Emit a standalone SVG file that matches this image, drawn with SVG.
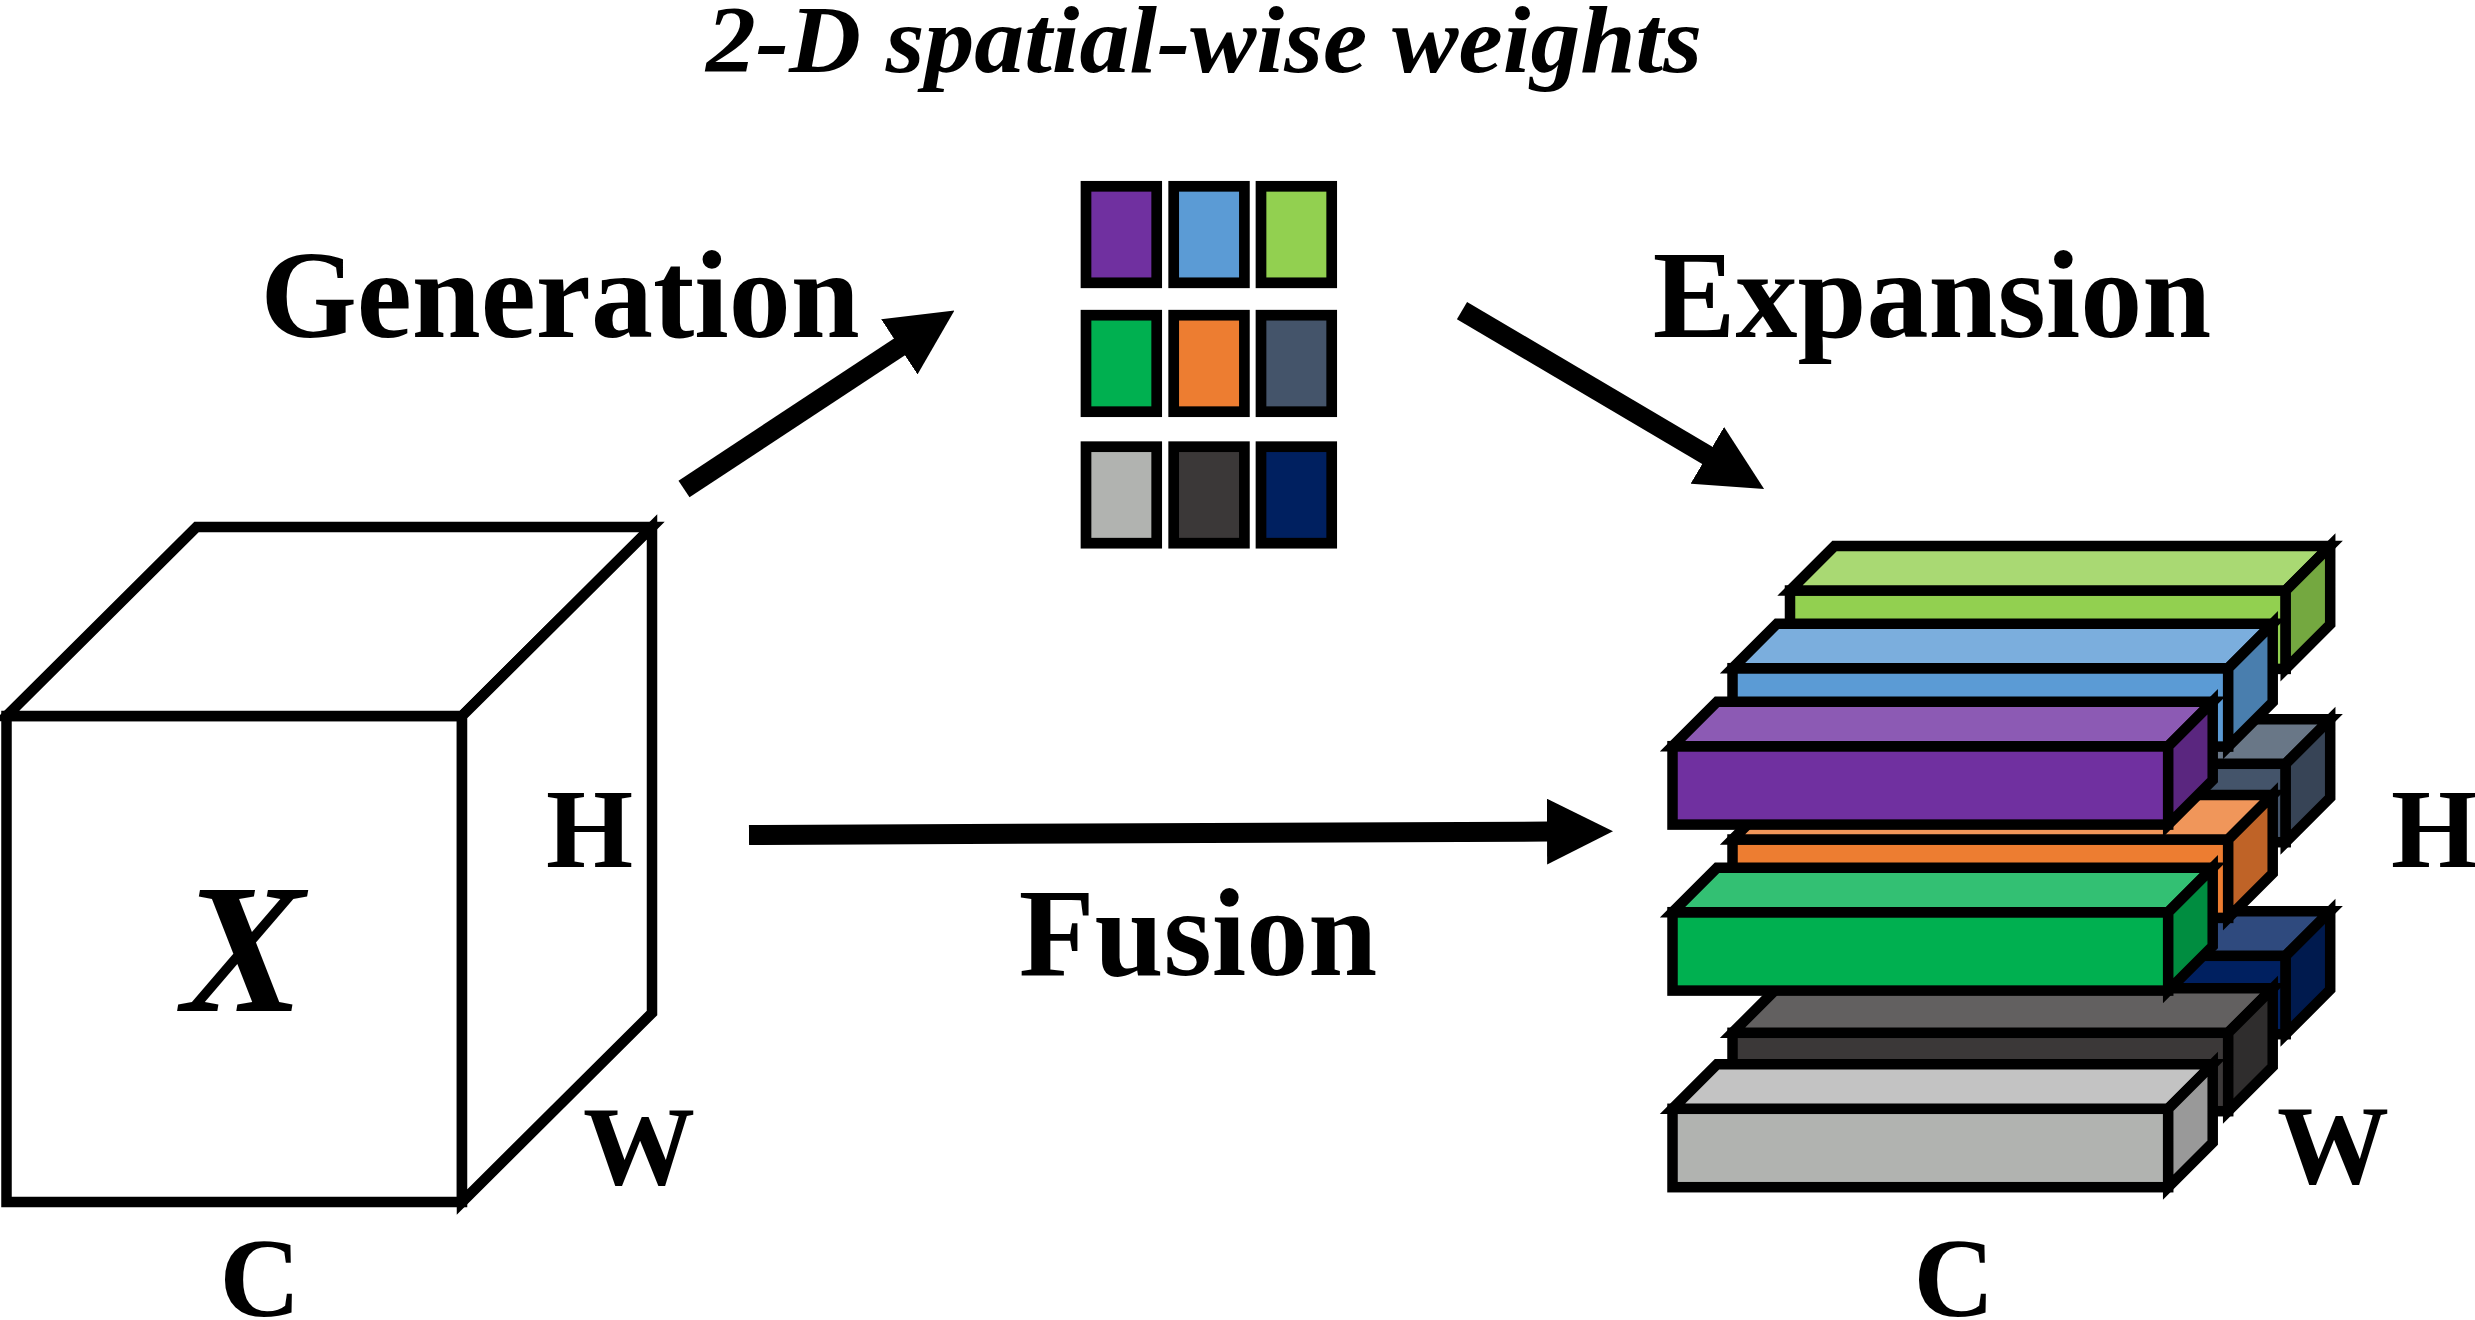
<svg xmlns="http://www.w3.org/2000/svg" width="2475" height="1320" viewBox="0 0 2475 1320">
  <style>
    .lbl { font-family: "Liberation Serif", "Times New Roman", serif; font-weight: bold; fill: #000; }
    .ital { font-style: italic; }
    .edge { stroke: #000; stroke-width: 10.5; stroke-linejoin: miter; stroke-miterlimit: 10; }
    .cell { stroke: #000; stroke-width: 10.7; }
    .shaft { stroke: #000; stroke-width: 20; fill: none; stroke-linecap: butt; }
  </style>
  <defs>
    <marker id="head" markerUnits="userSpaceOnUse" viewBox="0 0 66 66" markerWidth="66" markerHeight="66" refX="2" refY="33" orient="auto">
      <path d="M0,0 L66,33 L0,66 Z" fill="#000"/>
    </marker>
    <g id="bar">
      <rect class="edge fr" x="0" y="0" width="495.7" height="78.4"/>
      <polygon class="edge tp" points="0,0 44.5,-44.5 540.2,-44.5 495.7,0"/>
      <polygon class="edge sd" points="495.7,0 540.2,-44.5 540.2,33.9 495.7,78.4"/>
    </g>
  </defs>
  <rect width="2475" height="1320" fill="#fff"/>

  <!-- title -->
  <text id="title" class="lbl ital" x="1204" y="72" font-size="95" text-anchor="middle" textLength="996" lengthAdjust="spacingAndGlyphs">2-D spatial-wise weights</text>

  <!-- input cube X -->
  <g id="cube-x">
    <rect class="edge" x="6.5" y="716" width="455.5" height="486" fill="#fff"/>
    <polygon class="edge" points="6.5,716 196.5,527 652,527 462,716" fill="#fff"/>
    <polygon class="edge" points="462,716 652,527 652,1013 462,1202" fill="#fff"/>
    <text class="lbl ital" x="243" y="1011" font-size="184" text-anchor="middle">X</text>
    <text class="lbl" x="589.5" y="867" font-size="112" text-anchor="middle">H</text>
    <text class="lbl" x="639" y="1184" font-size="112" text-anchor="middle">W</text>
    <text class="lbl" x="260" y="1316" font-size="112" text-anchor="middle">C</text>
  </g>

  <!-- 2-D weights grid -->
  <g id="weights-grid">
    <rect class="cell" x="1086" y="186.3" width="70.7" height="96.5" fill="#7030A0"/>
    <rect class="cell" x="1173.7" y="186.3" width="70.7" height="96.5" fill="#5B9BD5"/>
    <rect class="cell" x="1261" y="186.3" width="70.7" height="96.5" fill="#92D050"/>
    <rect class="cell" x="1086" y="315.2" width="70.7" height="96.5" fill="#00B050"/>
    <rect class="cell" x="1173.7" y="315.2" width="70.7" height="96.5" fill="#ED7D31"/>
    <rect class="cell" x="1261" y="315.2" width="70.7" height="96.5" fill="#44546A"/>
    <rect class="cell" x="1086" y="446.7" width="70.7" height="96.5" fill="#B1B3B0"/>
    <rect class="cell" x="1173.7" y="446.7" width="70.7" height="96.5" fill="#3B3838"/>
    <rect class="cell" x="1261" y="446.7" width="70.7" height="96.5" fill="#002060"/>
  </g>

  <!-- expanded stack -->
  <g id="stack">
    <!-- back layer -->
    <g transform="translate(1790,590.5)">
      <rect class="edge" x="0" y="0" width="495.7" height="78.4" fill="#92D050"/>
      <polygon class="edge" points="0,0 44.5,-44.5 540.2,-44.5 495.7,0" fill="#A9D973"/>
      <polygon class="edge" points="495.7,0 540.2,-44.5 540.2,33.9 495.7,78.4" fill="#74A840"/>
    </g>
    <g transform="translate(1790,763.8)">
      <rect class="edge" x="0" y="0" width="495.7" height="78.4" fill="#44546A"/>
      <polygon class="edge" points="0,0 44.5,-44.5 540.2,-44.5 495.7,0" fill="#697787"/>
      <polygon class="edge" points="495.7,0 540.2,-44.5 540.2,33.9 495.7,78.4" fill="#374456"/>
    </g>
    <g transform="translate(1790,955.8)">
      <rect class="edge" x="0" y="0" width="495.7" height="78.4" fill="#002060"/>
      <polygon class="edge" points="0,0 44.5,-44.5 540.2,-44.5 495.7,0" fill="#2F4A7E"/>
      <polygon class="edge" points="495.7,0 540.2,-44.5 540.2,33.9 495.7,78.4" fill="#001A4E"/>
    </g>
    <!-- middle layer -->
    <g transform="translate(1732.5,668.2)">
      <rect class="edge" x="0" y="0" width="495.7" height="78.4" fill="#5B9BD5"/>
      <polygon class="edge" points="0,0 44.5,-44.5 540.2,-44.5 495.7,0" fill="#7BAEDD"/>
      <polygon class="edge" points="495.7,0 540.2,-44.5 540.2,33.9 495.7,78.4" fill="#497EAE"/>
    </g>
    <g transform="translate(1732.5,839.5)">
      <rect class="edge" x="0" y="0" width="495.7" height="78.4" fill="#ED7D31"/>
      <polygon class="edge" points="0,0 44.5,-44.5 540.2,-44.5 495.7,0" fill="#F0965A"/>
      <polygon class="edge" points="495.7,0 540.2,-44.5 540.2,33.9 495.7,78.4" fill="#BF6327"/>
    </g>
    <g transform="translate(1732.5,1032.8)">
      <rect class="edge" x="0" y="0" width="495.7" height="78.4" fill="#3B3838"/>
      <polygon class="edge" points="0,0 44.5,-44.5 540.2,-44.5 495.7,0" fill="#626060"/>
      <polygon class="edge" points="495.7,0 540.2,-44.5 540.2,33.9 495.7,78.4" fill="#2F2D2D"/>
    </g>
    <!-- front layer -->
    <g transform="translate(1672.5,746.2)">
      <rect class="edge" x="0" y="0" width="495.7" height="78.4" fill="#7030A0"/>
      <polygon class="edge" points="0,0 44.5,-44.5 540.2,-44.5 495.7,0" fill="#8C5AB4"/>
      <polygon class="edge" points="495.7,0 540.2,-44.5 540.2,33.9 495.7,78.4" fill="#5A267F"/>
    </g>
    <g transform="translate(1672.5,912.2)">
      <rect class="edge" x="0" y="0" width="495.7" height="78.4" fill="#00B050"/>
      <polygon class="edge" points="0,0 44.5,-44.5 540.2,-44.5 495.7,0" fill="#33C073"/>
      <polygon class="edge" points="495.7,0 540.2,-44.5 540.2,33.9 495.7,78.4" fill="#008D40"/>
    </g>
    <g transform="translate(1672.5,1108.8)">
      <rect class="edge" x="0" y="0" width="495.7" height="78.4" fill="#B1B3B0"/>
      <polygon class="edge" points="0,0 44.5,-44.5 540.2,-44.5 495.7,0" fill="#C3C3C3"/>
      <polygon class="edge" points="495.7,0 540.2,-44.5 540.2,33.9 495.7,78.4" fill="#999999"/>
    </g>
    <text class="lbl" x="2391" y="867" font-size="112">H</text>
    <text class="lbl" x="2333" y="1183" font-size="112" text-anchor="middle">W</text>
    <text class="lbl" x="1954" y="1316" font-size="112" text-anchor="middle">C</text>
  </g>

  <!-- connectors -->
  <g id="connectors">
    <line id="arrow-generation" class="shaft" x1="684" y1="489" x2="901" y2="345.8" marker-end="url(#head)"/>
    <line id="arrow-expansion" class="shaft" x1="1462" y1="310.6" x2="1709" y2="456.4" marker-end="url(#head)"/>
    <line id="arrow-fusion" class="shaft" x1="749" y1="835" x2="1549" y2="831.6" marker-end="url(#head)"/>
  </g>

  <!-- connector labels -->
  <text id="lbl-generation" class="lbl" x="560" y="337" font-size="124" text-anchor="middle">Generation</text>
  <text id="lbl-expansion" class="lbl" x="1932" y="337" font-size="124" text-anchor="middle">Expansion</text>
  <text id="lbl-fusion" class="lbl" x="1198" y="975" font-size="124" text-anchor="middle">Fusion</text>
</svg>
